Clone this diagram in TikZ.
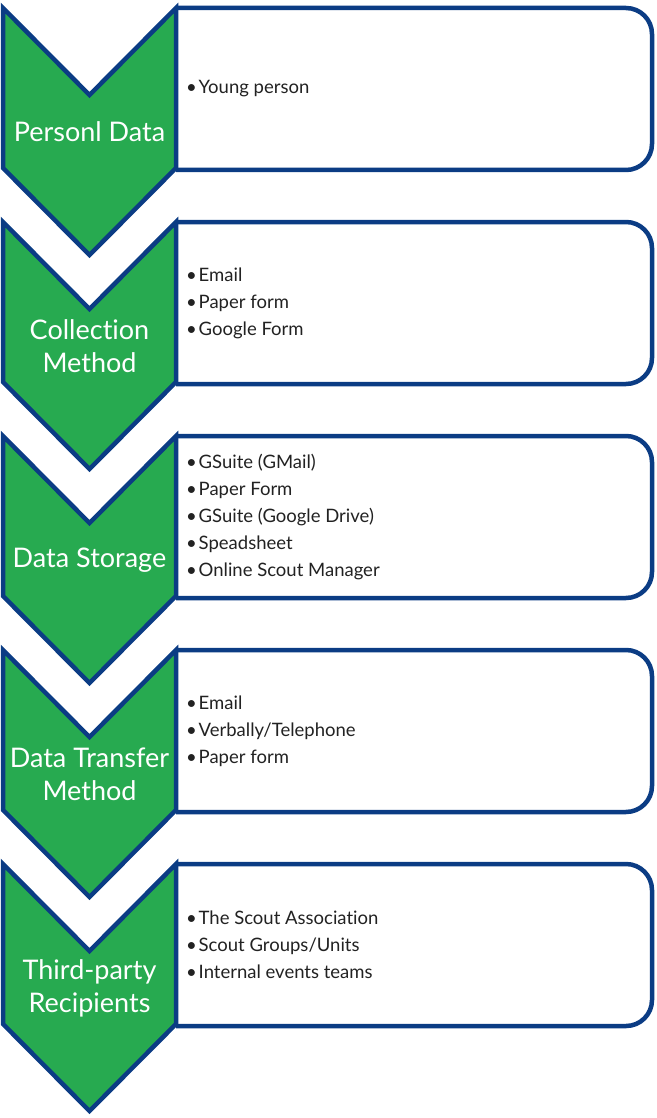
\documentclass[tikz,border=0pt]{standalone}
\usepackage{fontspec}
\setmainfont{Lato}[Ligatures=NoCommon]
\definecolor{cgreen}{HTML}{27AA50}
\definecolor{cblue}{HTML}{0B3C84}
\definecolor{ctext}{HTML}{222222}
\newcommand\bl{\makebox[12.5pt][l]{\textbullet}}
\begin{document}
\begin{tikzpicture}[x=1pt,y=-1pt,
  chev/.style={fill=cgreen,draw=cblue,line width=4.5pt,line join=miter},
  detail/.style={fill=white,draw=cblue,line width=4.5pt,rounded corners=26pt},
  lab/.style={text=white,align=center,inner sep=0pt,font=\fontsize{27}{33}\selectfont},
  items/.style={text=ctext,align=left,inner sep=0pt,anchor=west,font=\fontsize{18.5}{27}\selectfont}]
\useasboundingbox (0,0) rectangle (656,1118);
\foreach \i/\yy/\lab/\txt in {
  1/8/{Personl Data}/{\bl Young person},
  2/222/{Collection\\Method}/{\bl Email\\\bl Paper form\\\bl Google Form},
  3/436/{Data Storage}/{\bl GSuite (GMail)\\\bl Paper Form\\\bl GSuite (Google Drive)\\\bl Speadsheet\\\bl Online Scout Manager},
  4/650/{Data Transfer\\Method}/{\bl Email\\\bl Verbally/Telephone\\\bl Paper form},
  5/864/{Third-party\\Recipients}/{\bl The Scout Association\\\bl Scout Groups/Units\\\bl Internal events teams}}{
  \filldraw[detail] (176,\yy) -- (652,\yy) -- (652,\yy+162) -- (176,\yy+162);
  \draw[chev] (3,\yy) -- (89.5,\yy+87) -- (176,\yy) -- (176,\yy+160) -- (89.5,\yy+247) -- (3,\yy+160) -- cycle;
  \node[lab] (lab\i) at (89.5,\yy+124) {\lab};
  \node[items] (txt\i) at (186,\yy+81) {\txt};
}
\end{tikzpicture}
\end{document}
